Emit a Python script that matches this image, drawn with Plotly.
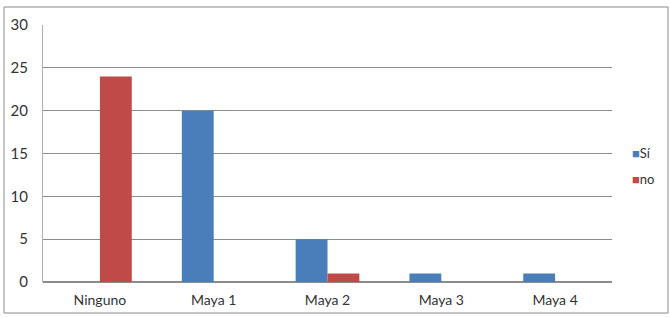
import plotly.graph_objects as go

categories = ["Ninguno", "Maya 1", "Maya 2", "Maya 3", "Maya 4"]
si_values = [0, 20, 5, 1, 1]
no_values = [24, 0, 1, 0, 0]
y_ticks = [0, 5, 10, 15, 20, 25, 30]
series_names = ["Sí", "no"]
series_colors = ["#4A7EBB", "#BE4B48"]

fig = go.Figure()
for name, vals, col in zip(series_names, [si_values, no_values], series_colors):
    fig.add_trace(go.Bar(name=name, x=categories, y=vals, marker_color=col,
                         marker_line_width=0))

L, R, T, B = 43, 58, 25, 36
W, H = 670, 318
pw, ph = W - L - R, H - T - B

annotations = []
for i, (name, col) in enumerate(zip(series_names, series_colors)):
    yc = 153 + i * 26
    annotations.append(dict(
        xref="paper", yref="paper", x=(630 - L) / pw, y=(282 - yc) / ph,
        xanchor="left", yanchor="middle", showarrow=False,
        text=f"<span style='color:{col};font-size:13px'>■</span>{name}",
        font=dict(size=13, color="#333333")))

fig.update_layout(
    width=W, height=H,
    margin=dict(l=L, r=R, t=T, b=B, autoexpand=False),
    paper_bgcolor="white", plot_bgcolor="white",
    barmode="group", bargap=0.44, bargroupgap=0,
    font=dict(family="Lato, Liberation Sans, sans-serif", size=14, color="#333333"),
    showlegend=False,
    xaxis=dict(showgrid=False, showline=False, ticks="", tickfont=dict(size=14),
               ticklabelstandoff=8),
    yaxis=dict(range=[0, 30], tickvals=y_ticks, showgrid=True, gridcolor="#8c8c8c",
               gridwidth=1, showline=True, linecolor="#b0b0b0", ticks="",
               tickfont=dict(size=15), zeroline=True, zerolinecolor="#8c8c8c",
               ticklabelstandoff=11),
    annotations=annotations,
    shapes=[dict(type="rect", xref="paper", yref="paper",
                 x0=(4 - L) / pw, x1=(668 - L) / pw,
                 y0=(282 - 313) / ph, y1=(282 - 7) / ph,
                 line=dict(color="#8a8a8a", width=1))],
)

fig.write_html("out.html", config={"displayModeBar": False},
               post_script="document.body.style.margin='0';")
